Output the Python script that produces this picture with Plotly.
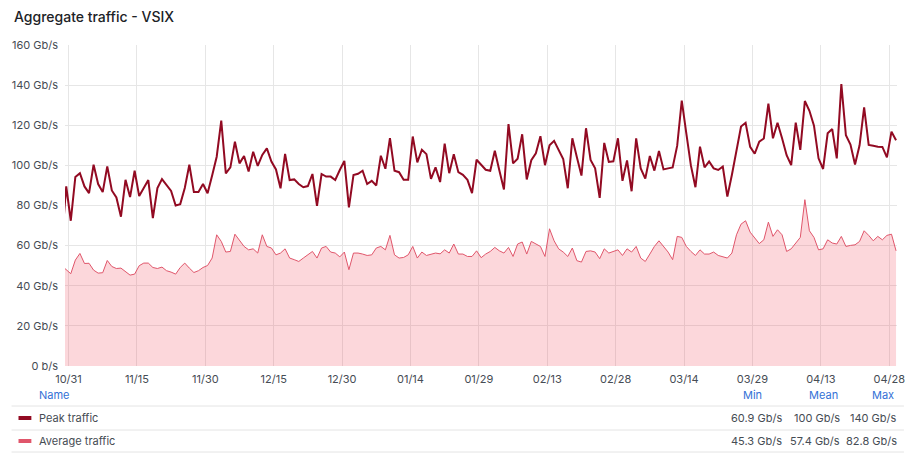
import pandas as pd
import plotly.graph_objects as go

# ---------------- data ----------------
start_date = "2023-10-29 12:00"   # one sample per day
peak_traffic = [
    60.9,
    89.5, 72.4, 94.2, 96.1, 89.5, 86.2, 100.3, 90.7, 86.7, 99.5,
    87.5, 84.0, 74.4, 92.8, 84.2, 97.3, 84.7, 88.7, 92.7, 73.7,
    88.7, 93.2, 90.0, 87.3, 80.0, 80.7, 88.7, 100.3, 86.7, 86.7,
    90.7, 86.1, 95.0, 104.3, 122.3, 96.0, 99.0, 111.8, 101.0, 104.7,
    96.9, 106.8, 99.7, 105.2, 108.5, 101.9, 98.0, 88.6, 105.7, 92.7,
    93.0, 90.7, 89.1, 89.7, 95.7, 79.8, 95.7, 94.4, 94.4, 92.7,
    97.7, 102.2, 79.1, 95.2, 95.8, 97.3, 90.7, 92.3, 90.0, 104.8,
    98.3, 113.6, 97.3, 96.6, 92.8, 92.8, 114.4, 101.5, 107.8, 105.6,
    93.3, 99.0, 91.7, 110.8, 96.1, 105.6, 96.6, 95.3, 92.8, 86.2,
    102.8, 100.3, 97.8, 97.3, 107.3, 97.4, 88.0, 120.6, 101.0, 103.3,
    115.5, 93.0, 102.6, 106.0, 114.5, 100.1, 110.0, 112.2, 108.0, 103.2,
    88.6, 113.5, 104.0, 94.9, 118.5, 102.7, 98.5, 83.8, 111.2, 101.7,
    102.0, 113.5, 92.3, 102.5, 87.1, 113.5, 98.5, 93.4, 104.7, 97.4,
    107.2, 98.0, 98.5, 99.0, 109.8, 132.3, 116.0, 100.0, 89.1, 109.3,
    99.0, 101.9, 98.5, 97.7, 99.4, 84.4, 95.3, 107.0, 119.4, 121.2,
    109.2, 105.8, 111.8, 113.4, 130.8, 113.5, 121.2, 113.5, 105.1, 100.1,
    121.3, 107.7, 132.1, 127.2, 119.8, 103.5, 98.2, 116.0, 118.1, 103.5,
    140.5, 115.0, 110.4, 100.4, 110.0, 128.9, 110.2, 109.8, 109.3, 109.2,
    104.0, 116.8, 112.5,
]
average_traffic = [
    50.0,
    48.0, 46.0, 52.8, 56.1, 51.1, 51.2, 47.8, 46.3, 46.5, 52.6,
    49.6, 48.6, 48.8, 47.1, 45.3, 45.8, 50.0, 51.3, 51.3, 49.1,
    48.6, 49.3, 47.5, 46.8, 45.8, 49.1, 51.3, 48.8, 46.6, 47.5,
    49.1, 50.1, 53.8, 65.4, 62.1, 56.8, 57.1, 65.7, 62.4, 59.6,
    57.9, 58.4, 56.3, 65.4, 59.6, 58.8, 55.4, 56.3, 58.4, 53.8,
    53.0, 52.1, 53.8, 55.4, 57.1, 53.8, 58.8, 59.6, 56.8, 56.3,
    54.4, 56.8, 48.0, 56.3, 56.3, 55.8, 55.1, 55.4, 58.8, 59.6,
    57.9, 65.1, 55.4, 53.8, 54.1, 55.4, 59.6, 53.8, 56.8, 55.1,
    55.8, 56.3, 55.9, 57.9, 56.3, 60.8, 55.8, 55.8, 54.6, 54.6,
    57.4, 54.0, 55.8, 57.1, 59.1, 57.4, 56.3, 59.1, 54.6, 60.8,
    61.8, 55.8, 62.1, 60.8, 59.6, 54.6, 68.4, 62.4, 58.4, 56.8,
    54.6, 58.8, 52.5, 51.8, 57.1, 57.4, 56.8, 53.5, 58.4, 56.3,
    57.1, 57.9, 55.1, 58.4, 56.8, 59.6, 53.8, 52.1, 55.8, 59.6,
    62.4, 59.6, 56.8, 53.0, 64.6, 64.1, 59.6, 57.1, 55.1, 57.9,
    55.8, 55.8, 56.8, 55.1, 54.3, 53.8, 56.3, 65.4, 70.7, 72.4,
    66.7, 64.1, 61.0, 62.9, 71.7, 64.6, 67.9, 65.4, 57.1, 58.4,
    61.3, 64.1, 82.9, 67.4, 64.1, 57.9, 58.4, 62.9, 61.3, 60.8,
    64.6, 59.6, 60.1, 60.4, 62.1, 67.4, 65.1, 62.4, 64.6, 62.9,
    65.1, 65.7, 57.4,
]
series_names = ["Peak traffic", "Average traffic"]
legend_headers = ["Name", "Min", "Mean", "Max"]
legend_stats = [
    ["60.9 Gb/s", "100 Gb/s", "140 Gb/s"],
    ["45.3 Gb/s", "57.4 Gb/s", "82.8 Gb/s"],
]
y_tick_values = [0, 20, 40, 60, 80, 100, 120, 140, 160]
y_tick_labels = ["0 b/s", "20 Gb/s", "40 Gb/s", "60 Gb/s", "80 Gb/s",
                 "100 Gb/s", "120 Gb/s", "140 Gb/s", "160 Gb/s"]
title_text = "Aggregate traffic - VSIX"

dates = pd.date_range(start_date, periods=len(peak_traffic), freq="D")

# ---------------- styling ----------------
W, H = 917, 453
PL, PR, PT, PB = 64, 905, 45, 366   # plot area in pixels
FONT = "Inter, Roboto, 'Open Sans', sans-serif"
PEAK_COLOR = "#920a22"
AVG_COLOR = "#e0566b"
AVG_FILL = "rgba(242,73,92,0.22)"
GRID = "#e6e6e6"
TEXT = "#464c54"
LINK = "#3371d6"


def px(x):
    return (x - PL) / (PR - PL)


def py(y):
    return (PB - y) / (PB - PT)


fig = go.Figure()
fig.add_trace(go.Scatter(
    x=dates, y=average_traffic, name=series_names[1], mode="lines",
    line=dict(color=AVG_COLOR, width=1), fill="tozeroy", fillcolor=AVG_FILL,
    showlegend=False))
fig.add_trace(go.Scatter(
    x=dates, y=peak_traffic, name=series_names[0], mode="lines",
    line=dict(color=PEAK_COLOR, width=2), showlegend=False))

fig.update_layout(
    width=W, height=H,
    margin=dict(l=PL, r=W - PR, t=PT, b=H - PB),
    paper_bgcolor="white", plot_bgcolor="white",
    font=dict(family=FONT, size=11, color=TEXT),
)
fig.update_xaxes(
    type="date",
    range=["2023-10-30 05:30", "2024-04-29 17:00"],
    tick0="2023-10-31", dtick=15 * 86400000, tickformat="%m/%d",
    showgrid=True, gridcolor=GRID, gridwidth=1, zeroline=False,
    showline=False, ticks="", ticklabelstandoff=5,
    tickfont=dict(size=11, color=TEXT),
)
fig.update_yaxes(
    range=[0, 160], tickvals=y_tick_values, ticktext=y_tick_labels,
    showgrid=True, gridcolor=GRID, gridwidth=1, zeroline=False,
    showline=False, ticks="", ticklabelstandoff=6,
    tickfont=dict(size=11, color=TEXT),
)

ann = []
shapes = []
# title
ann.append(dict(x=px(10), y=py(16), xref="paper", yref="paper", text=title_text,
                showarrow=False, xanchor="left", yanchor="middle",
                font=dict(size=14, color="#202226", weight=500)))

# legend table header
header_x = [36, 771, 847, 904]
ann.append(dict(x=px(header_x[0]), y=py(395), xref="paper", yref="paper",
                text=legend_headers[0], showarrow=False, xanchor="left",
                yanchor="middle", font=dict(size=11, color=LINK)))
for hx, ht in zip(header_x[1:], legend_headers[1:]):
    ann.append(dict(x=px(hx), y=py(395), xref="paper", yref="paper", text=ht,
                    showarrow=False, xanchor="right", yanchor="middle",
                    font=dict(size=11, color=LINK)))

row_y = [418, 441]
row_colors = [PEAK_COLOR, AVG_COLOR]
value_x = [791, 849, 907]
for ry, name, col, stats in zip(row_y, series_names, row_colors, legend_stats):
    shapes.append(dict(type="rect", xref="paper", yref="paper",
                       x0=px(17), x1=px(30), y0=py(ry + 2), y1=py(ry - 2),
                       fillcolor=col, line=dict(width=0)))
    ann.append(dict(x=px(36), y=py(ry), xref="paper", yref="paper", text=name,
                    showarrow=False, xanchor="left", yanchor="middle",
                    font=dict(size=11, color=TEXT)))
    for vx, vt in zip(value_x, stats):
        ann.append(dict(x=px(vx), y=py(ry), xref="paper", yref="paper",
                        text=vt, showarrow=False, xanchor="right",
                        yanchor="middle", font=dict(size=11, color=TEXT)))

for ly in [406, 430, 452]:
    shapes.append(dict(type="line", xref="paper", yref="paper",
                       x0=px(10), x1=px(912), y0=py(ly), y1=py(ly),
                       line=dict(color="#e4e4e4", width=1)))

fig.update_layout(annotations=ann, shapes=shapes)
fig.write_html(
    "out.html",
    include_plotlyjs=True,
    config={"displayModeBar": False},
    post_script="document.body.style.margin='0px';document.body.style.overflow='hidden';",
)
